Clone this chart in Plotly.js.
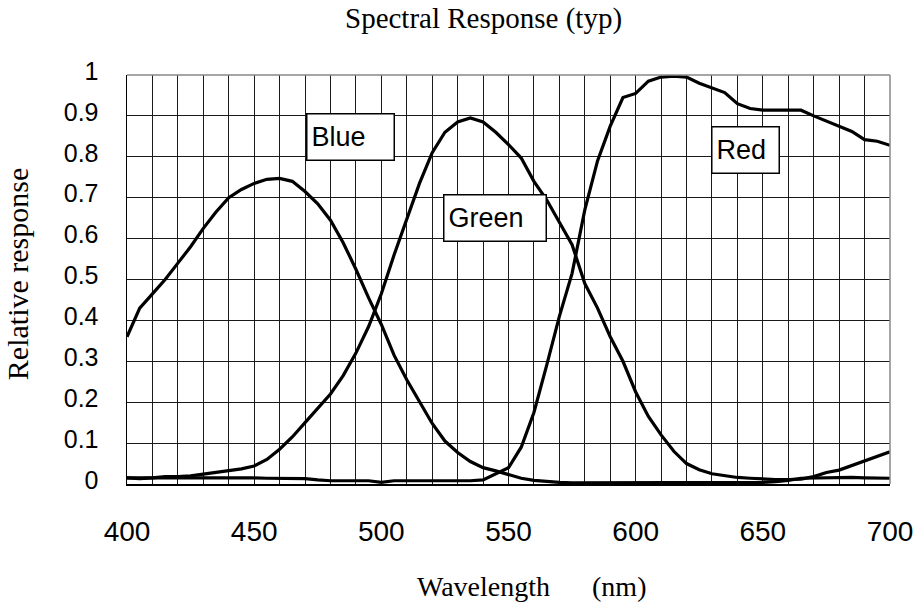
<!DOCTYPE html>
<html>
<head>
<meta charset="utf-8">
<script src="https://cdn.plot.ly/plotly-3.0.1.min.js"></script>
<style>html,body{margin:0;padding:0;background:#fff;}#chart{width:913px;height:603px;}</style>
</head>
<body>
<div id="chart"></div>
<script>
// Wavelength (nm), 5 nm steps
const wavelength = [400,405,410,415,420,425,430,435,440,445,450,455,460,465,470,475,480,485,490,495,
  500,505,510,515,520,525,530,535,540,545,550,555,560,565,570,575,580,585,590,595,
  600,605,610,615,620,625,630,635,640,645,650,655,660,665,670,675,680,685,690,695,700];

const blue = [0.36,0.43,0.465,0.50,0.54,0.58,0.625,0.665,0.70,0.72,0.735,0.745,0.747,0.74,0.715,0.685,0.645,0.59,0.525,0.455,
  0.39,0.315,0.255,0.20,0.148,0.105,0.077,0.055,0.04,0.032,0.022,0.014,0.009,0.006,0.004,0.003,0.003,0.003,0.003,0.003,
  0.003,0.003,0.003,0.003,0.003,0.003,0.003,0.003,0.003,0.003,0.004,0.006,0.009,0.014,0.015,0.014,0.015,0.016,0.015,0.015,0.014];

const green = [0.015,0.013,0.015,0.018,0.018,0.02,0.024,0.028,0.032,0.037,0.044,0.06,0.085,0.115,0.15,0.185,0.22,0.265,0.32,0.385,
  0.465,0.56,0.65,0.735,0.81,0.86,0.885,0.895,0.885,0.86,0.83,0.797,0.74,0.695,0.64,0.585,0.49,0.43,0.36,0.30,
  0.225,0.165,0.12,0.08,0.05,0.035,0.025,0.02,0.016,0.014,0.012,0.011,0.011,0.012,0.018,0.028,0.034,0.045,0.057,0.068,0.079];

const red = [0.015,0.015,0.016,0.015,0.015,0.016,0.015,0.015,0.015,0.015,0.015,0.014,0.014,0.014,0.013,0.01,0.008,0.008,0.008,0.008,
  0.004,0.008,0.008,0.008,0.008,0.008,0.008,0.008,0.01,0.025,0.04,0.09,0.175,0.29,0.41,0.515,0.67,0.79,0.875,0.945,
  0.955,0.985,0.995,0.997,0.995,0.98,0.968,0.957,0.93,0.918,0.914,0.914,0.914,0.914,0.9,0.888,0.875,0.862,0.842,0.838,0.828];

const xTickVals = [400,450,500,550,600,650,700];
const xTickText = ['400','450','500','550','600','650','700'];
const yTickVals = [0,0.1,0.2,0.3,0.4,0.5,0.6,0.7,0.8,0.9,1];
const yTickText = ['0','0.1','0.2','0.3','0.4','0.5','0.6','0.7','0.8','0.9','1'];

const seriesNames = ['Blue','Green','Red'];
const labelX = [488.0, 544.6, 643.0];
const labelY = [0.848, 0.650, 0.817];
const labelW = [78, 93, 58];

const lineStyle = {color:'#000', width:3.2};
const traces = [blue, green, red].map((ys, i) => ({
  x: wavelength, y: ys, type:'scatter', mode:'lines', name: seriesNames[i],
  line: lineStyle, showlegend:false, hoverinfo:'skip'
}));

const serif = 'Liberation Serif, Times New Roman, serif';
const sans = 'Liberation Sans, Arial, sans-serif';

const annotations = seriesNames.map((n, i) => ({
  x: labelX[i], y: labelY[i], xref:'x', yref:'y', text: n, showarrow:false,
  font:{family:sans, size:27, color:'#000'},
  bgcolor:'#fff', bordercolor:'#000', borderwidth:1.5, borderpad:4,
  width: labelW[i], height: 37, align:'left', valign:'middle',
  xanchor:'center', yanchor:'middle'
}));
annotations.push({
  text:'Wavelength\u00A0\u00A0\u00A0\u00A0\u00A0\u00A0(nm)', xref:'paper', yref:'paper',
  x:0.530, y:-0.250, xanchor:'center', yanchor:'middle', showarrow:false,
  font:{family:serif, size:28, color:'#000'}
});
annotations.push({
  text:'Relative response', xref:'paper', yref:'paper',
  x:-0.1442, y:0.513, xanchor:'center', yanchor:'middle', showarrow:false, textangle:-90,
  font:{family:serif, size:30, color:'#000'}
});

const layout = {
  width:913, height:603,
  margin:{l:127, r:23, t:75, b:119},
  paper_bgcolor:'#fff', plot_bgcolor:'#fff',
  title:{text:'Spectral Response (typ)', font:{family:serif, size:29, color:'#000'},
         x:0.5296, xanchor:'center', xref:'container', y:0.970, yref:'container', yanchor:'middle'},
  xaxis:{
    range:[400,700], tickmode:'array', tickvals:xTickVals, ticktext:xTickText,
    showgrid:true, gridcolor:'#1a1a1a', gridwidth:1,
    minor:{dtick:10, tick0:400, showgrid:true, gridcolor:'#1a1a1a', gridwidth:1, ticks:''},
    showline:true, linecolor:'#000', linewidth:1.5, ticks:'',
    tickfont:{family:sans, size:28, color:'#000'}, ticklabelstandoff:22,
    ticklabeloverflow:'allow',
    zeroline:false, fixedrange:true
  },
  yaxis:{
    range:[0,1], tickmode:'array', tickvals:yTickVals, ticktext:yTickText,
    showgrid:true, gridcolor:'#1a1a1a', gridwidth:1,
    showline:true, linecolor:'#000', linewidth:1.5, ticks:'',
    tickfont:{family:sans, size:25, color:'#000'}, ticklabelstandoff:22, ticklabelshift:-4,
    ticklabeloverflow:'allow',
    zeroline:false, fixedrange:true
  },
  shapes:[
    {type:'line', xref:'paper', yref:'paper', x0:0, x1:1, y0:1, y1:1, line:{color:'#888', width:1.5}},
    {type:'line', xref:'paper', yref:'paper', x0:1, x1:1, y0:0, y1:1, line:{color:'#888', width:1.5}}
  ],
  annotations: annotations
};

Plotly.newPlot('chart', traces, layout, {staticPlot:true, displayModeBar:false});
</script>
</body>
</html>
